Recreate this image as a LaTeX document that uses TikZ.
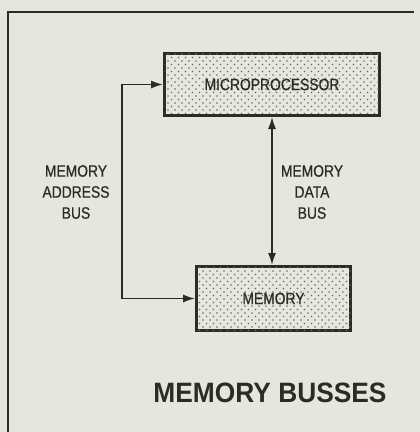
\documentclass[tikz,border=0pt]{standalone}
\usepackage{fontspec}
\setmainfont{Liberation Sans}
\newfontfamily\condfont{Liberation Sans}[FakeStretch=0.84,FakeBold=0.6]
\newfontfamily\titlefont{Liberation Sans}[FakeStretch=0.94]
\usetikzlibrary{patterns.meta,arrows.meta}
\definecolor{paper}{HTML}{E4E6DF}
\definecolor{ink}{HTML}{2B2C24}
\definecolor{boxfill}{HTML}{E6E7E0}
\tikzset{
  block/.style={draw=ink, line width=3pt, fill=boxfill, inner sep=0pt,
    font=\condfont\fontsize{16.5}{18}\selectfont, text=ink,
    postaction={pattern={Dots[distance=7pt,radius=0.85pt]}, pattern color=ink!70},
    postaction={pattern={Dots[distance=7pt,radius=0.85pt,xshift=3.5pt,yshift=3.5pt]}, pattern color=ink!70}},
  bus/.style={draw=ink, line width=1.6pt, {Latex[length=12pt,width=8pt]}-{Latex[length=12pt,width=8pt]}},
  lbl/.style={align=center, text=ink, font=\condfont\fontsize{16.5}{21}\selectfont}
}
\begin{document}
\begin{tikzpicture}[x=1pt,y=-1pt]
\fill[paper] (0,0) rectangle (420,432);
\useasboundingbox (0,0) rectangle (420,432);
\draw[ink, line width=2pt] (8,432) -- (8,12) -- (414,12);
\node[block, minimum width=215pt, minimum height=62pt] (mp) at (272,84.5) {MICROPROCESSOR};
\node[block, minimum width=154pt, minimum height=64pt] (mem) at (273.5,298.5) {MEMORY};
\coordinate (abx) at (122,200);
\draw[bus] (mp.west) -- (mp.west -| abx) -- (mem.west -| abx) -- (mem.west);
\draw[bus] (mp.south) -- (mp.south |- mem.north);
\node[lbl] (al) at (76,192) {MEMORY\\ADDRESS\\BUS};
\node[lbl] (dl) at (312,192) {MEMORY\\DATA\\BUS};
\node[text=ink, font=\titlefont\bfseries\fontsize{28}{30}\selectfont] (t) at (270,393) {MEMORY BUSSES};
\end{tikzpicture}
\end{document}
